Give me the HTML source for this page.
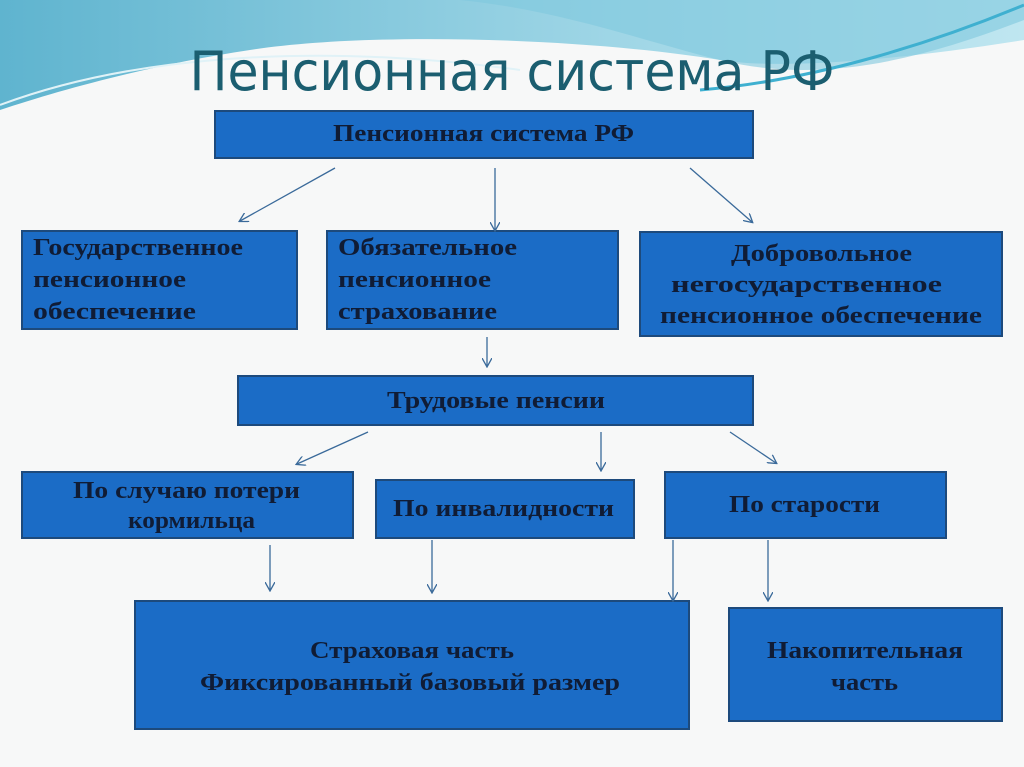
<!DOCTYPE html>
<html><head><meta charset="utf-8"><style>
html,body{margin:0;padding:0;background:#f7f8f8;}
svg{display:block}
.b{fill:#1b6cc6;stroke:#1d4a7c;stroke-width:2}
.t{font-family:"Liberation Serif","Noto Serif CJK SC",serif;font-weight:bold;fill:#101c35;font-size:24px}
.a{stroke:#3a6a9a;stroke-width:1.3;fill:none}
</style></head><body>
<svg width="1024" height="767" viewBox="0 0 1024 767" xmlns="http://www.w3.org/2000/svg">
<defs>
<linearGradient id="g1" x1="0" y1="0" x2="1" y2="0"><stop offset="0" stop-color="#5fb4cf"/><stop offset="0.6" stop-color="#9fd6e6"/><stop offset="1" stop-color="#bfe6f0"/></linearGradient>
<marker id="m" markerWidth="10" markerHeight="10" refX="8" refY="5" orient="auto" markerUnits="userSpaceOnUse"><path d="M0,0 L9,5 L0,10" fill="none" stroke="#3a6a9a" stroke-width="1.3"/></marker>
</defs>
<rect width="1024" height="767" fill="#f7f8f8"/>
<path d="M0,0 H1024 V40 C900,60 780,70 720,60 C600,40 380,30 250,50 C150,65 60,90 0,110 Z" fill="url(#g1)"/>
<path d="M460,0 C560,10 640,40 720,60 C820,85 920,60 1024,20 V0 Z" fill="#7fc8de" opacity="0.6"/>
<path d="M0,105 C120,60 300,40 520,70" stroke="#e0f2f7" stroke-width="2" fill="none"/>
<path d="M700,90 C820,80 940,40 1024,5" stroke="#3fb0d0" stroke-width="3" fill="none"/>
<text x="512" y="90" text-anchor="middle" font-family="DejaVu Sans, sans-serif" font-size="54" fill="#1b5e70" textLength="645" lengthAdjust="spacingAndGlyphs">Пенсионная система РФ</text>

<rect class="b" x="215" y="111" width="538" height="47"/>
<text class="t" x="333" y="141" font-size="20" textLength="301" lengthAdjust="spacingAndGlyphs">Пенсионная система РФ</text>

<rect class="b" x="22" y="231" width="275" height="98"/>
<text class="t" x="33" y="255" textLength="210" lengthAdjust="spacingAndGlyphs">Государственное</text>
<text class="t" x="33" y="287" textLength="153" lengthAdjust="spacingAndGlyphs">пенсионное</text>
<text class="t" x="33" y="319" textLength="163" lengthAdjust="spacingAndGlyphs">обеспечение</text>

<rect class="b" x="327" y="231" width="291" height="98"/>
<text class="t" x="338" y="255" textLength="179" lengthAdjust="spacingAndGlyphs">Обязательное</text>
<text class="t" x="338" y="287" textLength="153" lengthAdjust="spacingAndGlyphs">пенсионное</text>
<text class="t" x="338" y="319" textLength="159" lengthAdjust="spacingAndGlyphs">страхование</text>

<rect class="b" x="640" y="232" width="362" height="104"/>
<text class="t" x="731" y="261" textLength="181" lengthAdjust="spacingAndGlyphs">Добровольное</text>
<text class="t" x="671" y="292" textLength="271" lengthAdjust="spacingAndGlyphs">негосударственное</text>
<text class="t" x="660" y="323" textLength="322" lengthAdjust="spacingAndGlyphs">пенсионное обеспечение</text>

<rect class="b" x="238" y="376" width="515" height="49"/>
<text class="t" x="387" y="408" textLength="218" lengthAdjust="spacingAndGlyphs">Трудовые пенсии</text>

<rect class="b" x="22" y="472" width="331" height="66"/>
<text class="t" x="73" y="498" textLength="227" lengthAdjust="spacingAndGlyphs">По случаю потери</text>
<text class="t" x="128" y="528" textLength="127" lengthAdjust="spacingAndGlyphs">кормильца</text>

<rect class="b" x="376" y="480" width="258" height="58"/>
<text class="t" x="393" y="516" textLength="221" lengthAdjust="spacingAndGlyphs">По инвалидности</text>

<rect class="b" x="665" y="472" width="281" height="66"/>
<text class="t" x="729" y="512" textLength="151" lengthAdjust="spacingAndGlyphs">По старости</text>

<rect class="b" x="135" y="601" width="554" height="128"/>
<text class="t" x="310" y="658" textLength="204" lengthAdjust="spacingAndGlyphs">Страховая часть</text>
<text class="t" x="200" y="690" textLength="420" lengthAdjust="spacingAndGlyphs">Фиксированный базовый размер</text>

<rect class="b" x="729" y="608" width="273" height="113"/>
<text class="t" x="767" y="658" textLength="196" lengthAdjust="spacingAndGlyphs">Накопительная</text>
<text class="t" x="831" y="690" textLength="67" lengthAdjust="spacingAndGlyphs">часть</text>

<g class="a" marker-end="url(#m)">
<line x1="335" y1="168" x2="240" y2="221"/>
<line x1="495" y1="168" x2="495" y2="230"/>
<line x1="690" y1="168" x2="752" y2="222"/>
<line x1="487" y1="337" x2="487" y2="366"/>
<line x1="368" y1="432" x2="297" y2="464"/>
<line x1="601" y1="432" x2="601" y2="470"/>
<line x1="730" y1="432" x2="776" y2="463"/>
<line x1="270" y1="545" x2="270" y2="590"/>
<line x1="432" y1="540" x2="432" y2="592"/>
<line x1="673" y1="540" x2="673" y2="600"/>
<line x1="768" y1="540" x2="768" y2="600"/>
</g>
</svg>
</body></html>
